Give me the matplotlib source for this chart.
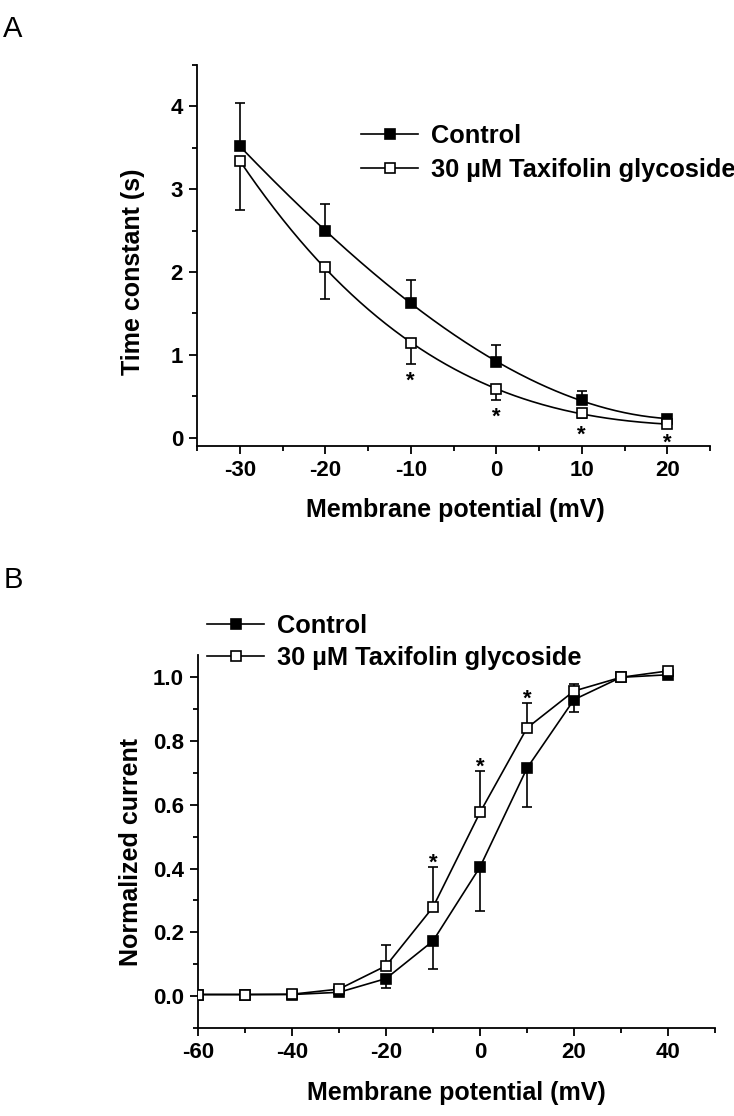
import numpy as np
import matplotlib
matplotlib.use("Agg")
import matplotlib.pyplot as plt
from matplotlib.lines import Line2D
from matplotlib.ticker import MultipleLocator, FormatStrFormatter

# ---------------- data ----------------
# Panel A: time constant vs membrane potential
a_x = [-30, -20, -10, 0, 10, 20]
a_control = [3.52, 2.50, 1.63, 0.915, 0.45, 0.23]
a_control_err = [0.52, 0.32, 0.27, 0.205, 0.11, 0.03]
a_taxi = [3.34, 2.06, 1.14, 0.585, 0.30, 0.16]
a_taxi_err = [0.59, 0.39, 0.245, 0.125, 0.06, 0.02]
a_star_x = [-10, 0, 10, 20]

# Panel B: normalized current vs membrane potential
b_x = [-60, -50, -40, -30, -20, -10, 0, 10, 20, 30, 40]
b_control = [0.005, 0.005, 0.005, 0.012, 0.055, 0.173, 0.405, 0.715, 0.93, 1.0, 1.008]
b_control_err = [0.0, 0.0, 0.0, 0.005, 0.03, 0.087, 0.137, 0.121, 0.04, 0.0, 0.005]
b_taxi = [0.005, 0.005, 0.006, 0.022, 0.095, 0.279, 0.576, 0.841, 0.957, 1.0, 1.02]
b_taxi_err = [0.0, 0.0, 0.0, 0.005, 0.065, 0.126, 0.131, 0.079, 0.023, 0.0, 0.0]
b_star_x = [-10, 0, 10]

label_control = "Control"
label_taxi = "30 \u00b5M Taxifolin glycoside"

# ---------------- style ----------------
plt.rcParams['font.family'] = ['Liberation Sans', 'DejaVu Sans']
plt.rcParams['font.weight'] = 'bold'
plt.rcParams['axes.unicode_minus'] = False
W, H = 734, 1116
fig = plt.figure(figsize=(W / 100, H / 100), dpi=100)

LW = 1.2
MS = 7.2
MEW = 1.2
TICK_FS = 16
LABEL_FS = 18
LEG_FS = 18.3


def style_axes(ax):
    for s in ('top', 'right'):
        ax.spines[s].set_visible(False)
    for s in ('left', 'bottom'):
        ax.spines[s].set_linewidth(1.3)
    ax.tick_params(which='major', direction='out', length=6, width=1.3,
                   labelsize=TICK_FS, pad=4)
    ax.tick_params(which='minor', direction='out', length=3.5, width=1.3)
    for lab in ax.get_xticklabels() + ax.get_yticklabels():
        lab.set_fontweight('bold')


def fpos(l, t, r, b):
    return [l / W, 1 - b / H, (r - l) / W, (b - t) / H]


# ---------------- panel A ----------------
axA = fig.add_axes(fpos(197, 65, 710, 446))
ax_x = np.array(a_x, dtype=float)
xs = np.linspace(min(a_x), max(a_x), 200)
pc = np.polyfit(ax_x, a_control, 3)
pt = np.polyfit(ax_x, a_taxi, 3)
axA.plot(xs, np.polyval(pc, xs), color='black', lw=LW, zorder=2)
axA.plot(xs, np.polyval(pt, xs), color='black', lw=LW, zorder=2)
zeros = [0] * len(a_x)
axA.errorbar(a_x, a_control, yerr=[zeros, a_control_err], fmt='none',
             ecolor='black', elinewidth=LW, capsize=3.5, capthick=LW, zorder=3)
axA.errorbar(a_x, a_taxi, yerr=[a_taxi_err, zeros], fmt='none',
             ecolor='black', elinewidth=LW, capsize=3.5, capthick=LW, zorder=3)
axA.plot(a_x, a_control, 's', ms=MS, mfc='black', mec='black', mew=MEW, zorder=4)
axA.plot(a_x, a_taxi, 's', ms=MS, mfc='white', mec='black', mew=MEW, zorder=4)
for sx in a_star_x:
    i = a_x.index(sx)
    axA.annotate('*', (sx, a_taxi[i] - a_taxi_err[i]), xytext=(0, -23),
                 textcoords='offset pixels', ha='center', va='baseline',
                 fontsize=16, fontweight='bold')
axA.set_xlim(-35, 25)
axA.set_ylim(-0.1, 4.5)
axA.xaxis.set_major_locator(MultipleLocator(10))
axA.xaxis.set_minor_locator(MultipleLocator(5))
axA.yaxis.set_major_locator(MultipleLocator(1))
axA.yaxis.set_minor_locator(MultipleLocator(0.5))
style_axes(axA)

h_ctrl = Line2D([], [], color='black', lw=LW, marker='s', ms=MS, mfc='black', mec='black', mew=MEW)
h_taxi = Line2D([], [], color='black', lw=LW, marker='s', ms=MS, mfc='white', mec='black', mew=MEW)

legA = fig.legend([h_ctrl, h_taxi], [label_control, label_taxi], loc='upper left',
                  bbox_to_anchor=(361 / W, 1 - 124 / H), frameon=False,
                  prop={'size': LEG_FS, 'weight': 'bold'}, handlelength=2.25,
                  handletextpad=0.5, labelspacing=0.38, borderpad=0, borderaxespad=0)

fig.text(133 / W, 1 - 272 / H, "Time constant (s)", rotation=90, ha='center', va='center',
         fontsize=LABEL_FS, fontweight='bold')
fig.text(455 / W, 1 - 510 / H, "Membrane potential (mV)", ha='center', va='center',
         fontsize=LABEL_FS, fontweight='bold')
fig.text(13 / W, 1 - 29 / H, "A", ha='center', va='center', fontsize=21, fontweight='normal')

# ---------------- panel B ----------------
axB = fig.add_axes(fpos(198, 655, 715, 1028))
zb = [0] * len(b_x)
axB.plot(b_x, b_control, color='black', lw=LW, zorder=2)
axB.plot(b_x, b_taxi, color='black', lw=LW, zorder=2)
axB.errorbar(b_x, b_control, yerr=[b_control_err, zb], fmt='none',
             ecolor='black', elinewidth=LW, capsize=3.5, capthick=LW, zorder=3)
axB.errorbar(b_x, b_taxi, yerr=[zb, b_taxi_err], fmt='none',
             ecolor='black', elinewidth=LW, capsize=3.5, capthick=LW, zorder=3)
axB.plot(b_x, b_control, 's', ms=MS, mfc='black', mec='black', mew=MEW, zorder=4)
axB.plot(b_x, b_taxi, 's', ms=MS, mfc='white', mec='black', mew=MEW, zorder=4)
for sx in b_star_x:
    i = b_x.index(sx)
    axB.annotate('*', (sx, b_taxi[i] + b_taxi_err[i]), xytext=(0, -2),
                 textcoords='offset pixels', ha='center', va='baseline',
                 fontsize=16, fontweight='bold')
axB.set_xlim(-60, 50)
axB.set_ylim(-0.1, 1.07)
axB.xaxis.set_major_locator(MultipleLocator(20))
axB.xaxis.set_minor_locator(MultipleLocator(10))
axB.yaxis.set_major_locator(MultipleLocator(0.2))
axB.yaxis.set_minor_locator(MultipleLocator(0.1))
axB.yaxis.set_major_formatter(FormatStrFormatter('%.1f'))
style_axes(axB)

legB = fig.legend([h_ctrl, h_taxi], [label_control, label_taxi], loc='upper left',
                  bbox_to_anchor=(207 / W, 1 - 614 / H), frameon=False,
                  prop={'size': LEG_FS, 'weight': 'bold'}, handlelength=2.25,
                  handletextpad=0.5, labelspacing=0.3, borderpad=0, borderaxespad=0)

fig.text(131 / W, 1 - 852 / H, "Normalized current", rotation=90, ha='center', va='center',
         fontsize=LABEL_FS, fontweight='bold')
fig.text(456 / W, 1 - 1093 / H, "Membrane potential (mV)", ha='center', va='center',
         fontsize=LABEL_FS, fontweight='bold')
fig.text(13 / W, 1 - 580 / H, "B", ha='center', va='center', fontsize=21, fontweight='normal')

fig.savefig("out.png", dpi=100, facecolor='white')
